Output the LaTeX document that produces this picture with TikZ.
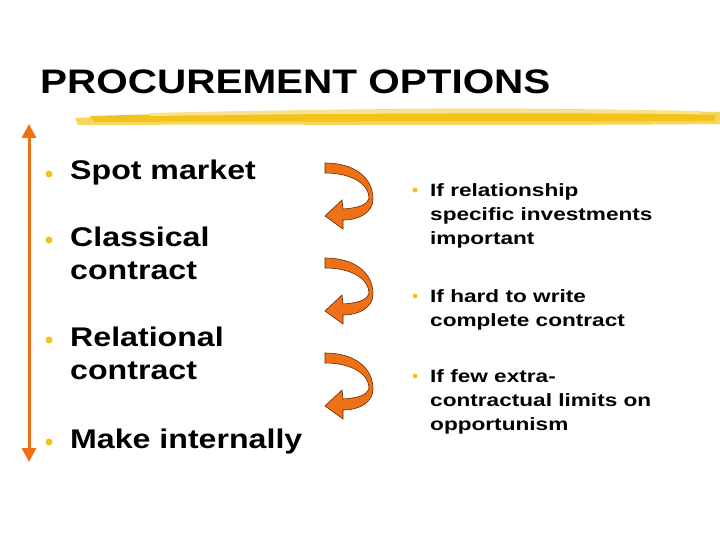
\documentclass[tikz,border=0pt]{standalone}
\usepackage{fontspec}
\setmainfont{Liberation Sans}
\newfontfamily\wideA[FakeStretch=1.19]{Liberation Sans}
\newfontfamily\wideB[FakeStretch=1.27]{Liberation Sans}
\usetikzlibrary{arrows.meta}
\definecolor{arr}{HTML}{EE7118}
\definecolor{arrd}{HTML}{6B2A05}
\definecolor{yel}{HTML}{F2C41A}
\tikzset{
 lt/.style={anchor=north west,font=\wideA\bfseries\fontsize{27}{33}\selectfont,align=left,inner sep=0pt},
 rt/.style={anchor=north west,font=\wideB\bfseries\fontsize{17.8}{24}\selectfont,align=left,inner sep=0pt},
 bul/.style={circle,fill=yel,inner sep=0pt,minimum size=7pt},
 rbul/.style={circle,fill=yel,inner sep=0pt,minimum size=5pt},
 curv/.style={fill=arr,draw=arrd,line width=0.6pt}
}
\begin{document}
\begin{tikzpicture}[x=1pt,y=-1pt]
\useasboundingbox (0,0) rectangle (720,540);
\fill[white] (0,0) rectangle (720,540);
\node[anchor=base west,inner sep=0pt,font=\wideA\bfseries\fontsize{34}{40}\selectfont] (title) at (40,94) {PROCUREMENT OPTIONS};
% brush stroke
\fill[yel!70] (75,118) .. controls (300,108) and (500,106) .. (720,112) -- (720,124) .. controls (500,126) and (300,124) .. (78,125) -- cycle;
\fill[yel] (90,116) .. controls (300,110) and (500,110) .. (715,115) -- (715,121) .. controls (500,122) and (300,121) .. (95,122) -- cycle;
\fill[yel!50] (150,113) .. controls (350,108) and (550,109) .. (700,111) -- (700,114) .. controls (550,113) and (350,113) .. (150,116) -- cycle;
% vertical arrow
\coordinate (vt) at (29,124);
\coordinate (vb) at (29,462);
\draw[arr,line width=3pt,{Triangle[length=14pt,width=14pt]}-{Triangle[length=14pt,width=14pt]}] (vt) -- (vb);
% left items
\node[bul] (b1) at (49,174) {}; \node[lt] (l1) at (70,160) {Spot market};
\node[bul] (b2) at (49,240) {}; \node[lt] (l2) at (70,227) {Classical\\contract};
\node[bul] (b3) at (49,340) {}; \node[lt] (l3) at (70,327) {Relational\\contract};
\node[bul] (b4) at (49,442) {}; \node[lt] (l4) at (70,429) {Make internally};
% right items
\node[rbul] (r1b) at (415,190) {}; \node[rt] (r1) at (430,183) {If relationship\\specific investments\\important};
\node[rbul] (r2b) at (415,296) {}; \node[rt] (r2) at (430,289) {If hard to write\\complete contract};
\node[rbul] (r3b) at (415,376) {}; \node[rt] (r3) at (430,369) {If few extra-\\contractual limits on\\opportunism};
% curved arrows
\foreach \n/\y in {c1/0,c2/95,c3/190}{
 \begin{scope}[yshift=-\y pt]
 \path[curv] (325,163) -- (325,173) .. controls (353,173) and (369,185) .. (369,198)
   .. controls (367,206) and (356,208) .. (343,209) -- (342,200) -- (325,216) -- (343,229) -- (343,220)
   .. controls (360,220) and (373,212) .. (373,199) .. controls (373,178) and (355,163) .. (325,163) -- cycle;
 \end{scope}
}
\end{tikzpicture}
\end{document}
